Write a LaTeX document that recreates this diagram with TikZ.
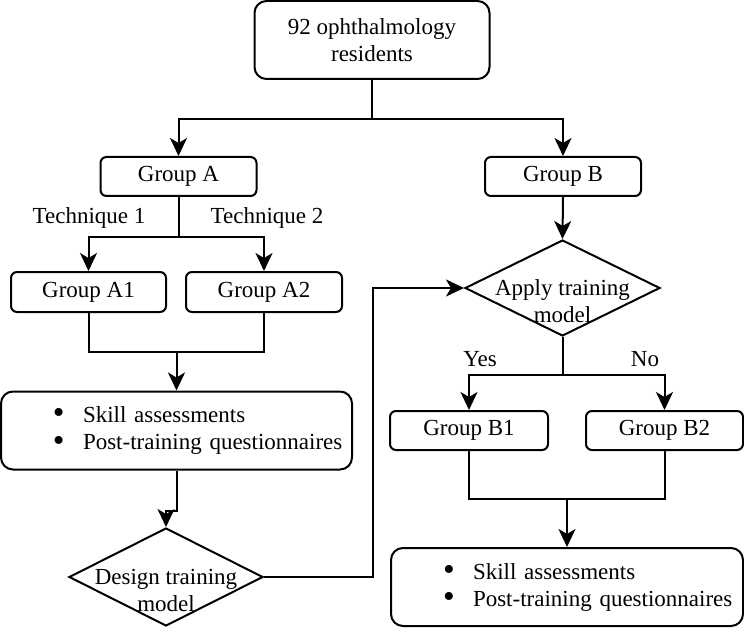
\documentclass[tikz,border=0pt]{standalone}
\usepackage{fontspec}
\setmainfont{Liberation Serif}
\usetikzlibrary{shapes.geometric,arrows.meta}
\tikzset{
  start box/.style={
    rectangle, rounded corners=12pt, draw=black, line width=2pt,
    minimum width=235pt, minimum height=78pt, align=center
  },
  group box/.style={
    rectangle, rounded corners=6pt, draw=black, line width=2pt,
    minimum width=156pt, minimum height=39pt, inner sep=0pt
  },
  list box/.style={
    rectangle, rounded corners=12pt, draw=black, line width=2pt,
    minimum height=78pt, inner xsep=0pt, align=left
  },
  decision/.style={
    diamond, draw=black, line width=2pt, inner sep=0pt,
    minimum width=195pt, minimum height=97pt
  },
  flow line/.style={draw=black, line width=2pt},
  flow arrow/.style={
    draw=black, line width=2pt, -{Stealth[length=18pt, width=17pt, inset=5pt]}
  }
}
\newcommand{\bulletline}[1]{\hspace*{52pt}\makebox[30pt][l]{\raisebox{-1.5pt}{\scalebox{1.45}{\textbullet}}}#1}

\begin{document}
\begin{tikzpicture}[x=1pt, y=-1pt, font=\fontsize{23}{27}\selectfont]
\useasboundingbox (0,0) rectangle (744,639);

% ---------------------------
% start and split
% ---------------------------
\node[start box] (top) at (372,40) {92 ophthalmology\\residents};

\node[group box] (grpA) at (178.5,176.5) {Group A};
\node[group box] (grpB) at (563,176.5) {Group B};

\draw[flow arrow] (top.south) -- ++(0,39) -| (grpA.north);
\draw[flow arrow] (top.south) -- ++(0,39) -| (grpB.north);

% ---------------------------
% Group A branch
% ---------------------------
\node[group box, minimum width=155pt, minimum height=40pt] (grpA1) at (88.5,292) {Group A1};
\node[group box, minimum height=40pt] (grpA2) at (264,292) {Group A2};

\node (techA) at (89,218) {Technique 1};
\node (techB) at (267,218) {Technique 2};

\draw[flow arrow] (grpA.south) -- ++(0,40) -| (grpA1.north);
\draw[flow arrow] (grpA.south) -- ++(0,40) -| (grpA2.north);

\node[list box, text width=351pt] (skillA) at (176.5,430.5)
  {\bulletline{Skill assessments}\\ \bulletline{Post-training questionnaires}};

\coordinate (joinA) at (176.5,352);
\draw[flow line] (grpA1.south) |- (joinA) -| (grpA2.south);
\draw[flow arrow] (joinA) -- (skillA.north);

\node[decision, minimum width=194pt, minimum height=98pt,
  label={[align=center, yshift=-13pt]center:Design training\\model}] (design) at (166,577) {};

\draw[flow arrow] (skillA.south) -- ++(0,40) -| (design.north);

% ---------------------------
% Group B branch
% ---------------------------
\node[decision, minimum height=96pt,
  label={[align=center, yshift=-13pt]center:Apply training\\model}] (apply) at (562.5,288) {};

\draw[flow arrow] (grpB.south) -- (apply.north);
\draw[flow arrow] (design.east) -- ++(109,0) |- (apply.west);

\node[group box, minimum width=158pt] (grpB1) at (469,430.5) {Group B1};
\node[group box, minimum width=157pt] (grpB2) at (664.5,430.5) {Group B2};

\node (yes) at (480,359) {Yes};
\node (no) at (645,359) {No};

\draw[flow arrow] (apply.south) -- ++(0,38) -| (grpB1.north);
\draw[flow arrow] (apply.south) -- ++(0,38) -| (grpB2.north);

\node[list box, text width=352pt] (skillB) at (567,587)
  {\bulletline{Skill assessments}\\ \bulletline{Post-training questionnaires}};

\coordinate (joinB) at (567,499);
\draw[flow line] (grpB1.south) |- (joinB) -| (grpB2.south);
\draw[flow arrow] (joinB) -- (skillB.north);

\end{tikzpicture}
\end{document}
